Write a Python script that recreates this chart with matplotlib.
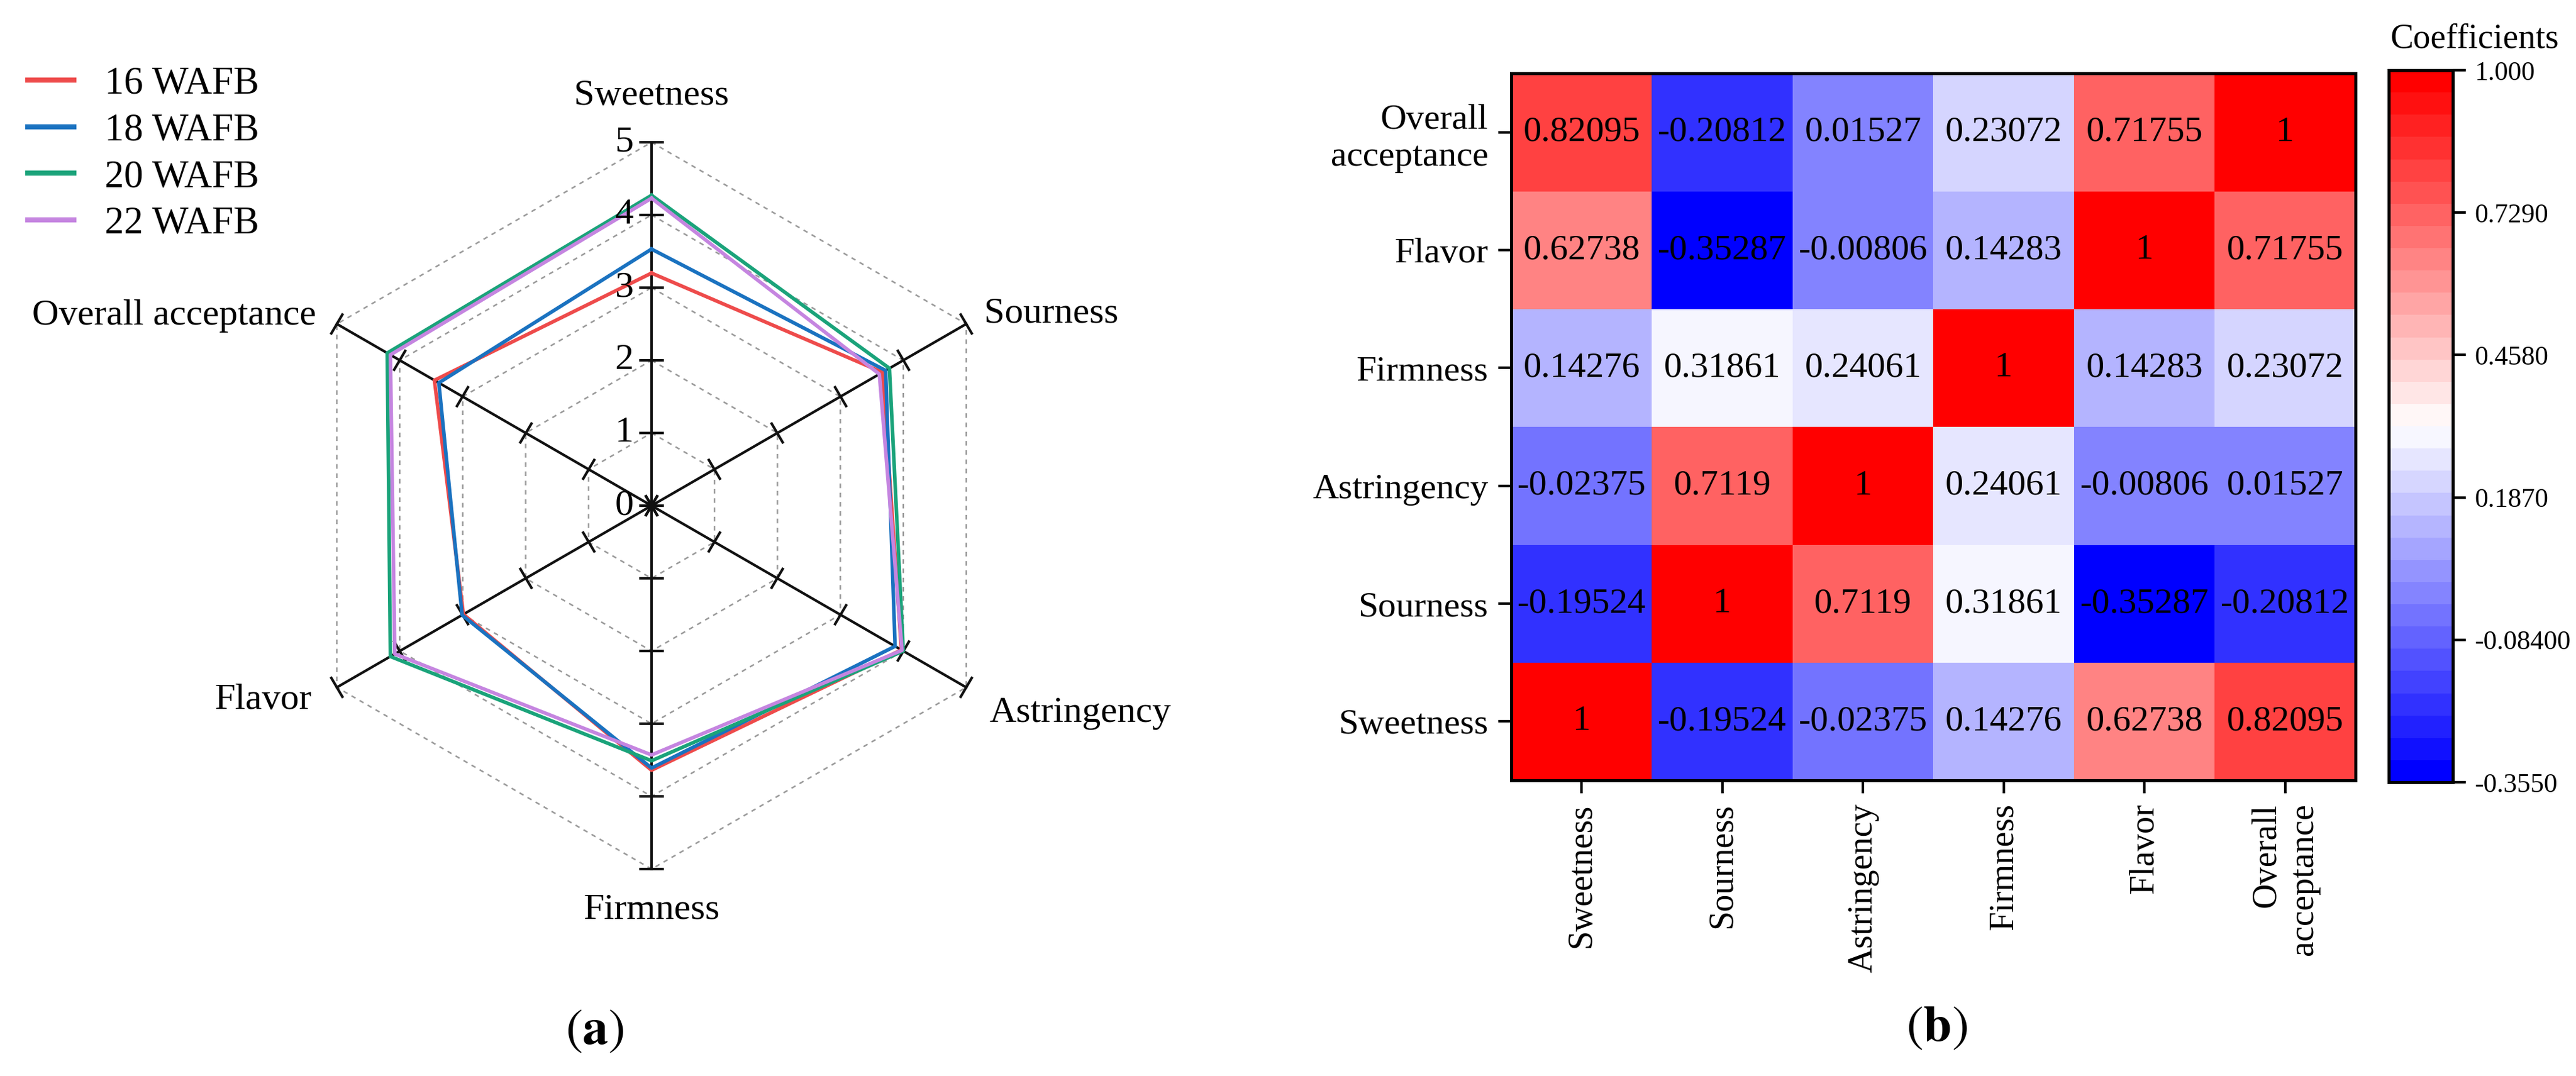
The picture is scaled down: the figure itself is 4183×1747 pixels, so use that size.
import numpy as np
import matplotlib
matplotlib.use('Agg')
import matplotlib.pyplot as plt
from matplotlib.markers import MarkerStyle
from matplotlib.transforms import Affine2D

plt.rcParams['font.family'] = ['Liberation Serif', 'DejaVu Serif']
plt.rcParams['mathtext.fontset'] = 'stix'

# ---- data: sensory scores (radar) ----
attributes = ['Sweetness', 'Sourness', 'Astringency', 'Firmness', 'Flavor', 'Overall acceptance']
stages = ['16 WAFB', '18 WAFB', '20 WAFB', '22 WAFB']
scores_16 = [3.20, 3.67, 3.97, 3.64, 2.99, 3.45]
scores_18 = [3.53, 3.72, 3.87, 3.61, 3.01, 3.38]
scores_20 = [4.27, 3.78, 4.00, 3.51, 4.15, 4.20]
scores_22 = [4.23, 3.62, 3.98, 3.43, 4.08, 4.15]
score_ticks = [0, 1, 2, 3, 4, 5]

# ---- data: correlation matrix (heatmap) ----
heat_labels = ['Sweetness', 'Sourness', 'Astringency', 'Firmness', 'Flavor', 'Overall\nacceptance']
r_sweetness = [1, -0.19524, -0.02375, 0.14276, 0.62738, 0.82095]
r_sourness = [-0.19524, 1, 0.7119, 0.31861, -0.35287, -0.20812]
r_astringency = [-0.02375, 0.7119, 1, 0.24061, -0.00806, 0.01527]
r_firmness = [0.14276, 0.31861, 0.24061, 1, 0.14283, 0.23072]
r_flavor = [0.62738, -0.35287, -0.00806, 0.14283, 1, 0.71755]
r_overall = [0.82095, -0.20812, 0.01527, 0.23072, 0.71755, 1]
cbar_ticks = [-0.355, -0.084, 0.187, 0.458, 0.729, 1.0]
cbar_ticklabels = ['-0.3550', '-0.08400', '0.1870', '0.4580', '0.7290', '1.000']

stage_colors = ['#ee4b4b', '#1a72c0', '#1aa37a', '#c585e0']

W, H = 4183, 1747
DPI = 300
fig = plt.figure(figsize=(W / DPI, H / DPI), dpi=DPI)


def px(x0, y0, w, h):
    # pixel box (top-left origin) -> figure fraction
    return [x0 / W, 1 - (y0 + h) / H, w / W, h / H]


# ================= (a) radar =================
cx, cy, R = 1058, 821, 590
ax = fig.add_axes(px(cx - R, cy - R, 2 * R, 2 * R), projection='polar')
ax.set_theta_zero_location('N')
ax.set_theta_direction(-1)
ax.set_ylim(0, score_ticks[-1])
ax.axis('off')

n = len(attributes)
theta = np.arange(n) * 2 * np.pi / n
theta_c = np.append(theta, theta[0])

# dashed hexagon grid
for lvl in score_ticks[1:]:
    ax.plot(theta_c, [lvl] * (n + 1), ls=(0, (3, 3)), color='#9a9a9a', lw=0.6,
            zorder=1, clip_on=False)

# spokes with perpendicular tick marks
for t in theta:
    ax.plot([t, t], [0, score_ticks[-1]], color='#111111', lw=1.0, zorder=2, clip_on=False)
    m = MarkerStyle('_', transform=Affine2D().rotate_deg(180 - np.degrees(t)))
    ax.plot([t] * len(score_ticks), score_ticks, ls='none', marker=m, ms=9.5, mew=1.0,
            color='#111111', zorder=2, clip_on=False)

for scores, name, col in zip([scores_16, scores_18, scores_20, scores_22], stages, stage_colors):
    vals = scores + scores[:1]
    ax.plot(theta_c, vals, color=col, lw=1.4, label=name, zorder=3, clip_on=False)

for v in score_ticks:
    ax.annotate(str(v), (0, v), xytext=(-7, 0), textcoords='offset points',
                ha='right', va='center', fontsize=14.5)

lab_off = [(0, 18), (7, 4), (9, -10), (0, -16), (-10, -5), (-8, 3)]
lab_ha = ['center', 'left', 'left', 'center', 'right', 'right']
for t, name, off, ha in zip(theta, attributes, lab_off, lab_ha):
    ax.annotate(name, (t, score_ticks[-1]), xytext=off, textcoords='offset points',
                ha=ha, va='center', fontsize=14.5, annotation_clip=False)

leg = ax.legend(loc='upper left', bbox_to_anchor=(45 / W, 1 - 108 / H),
                bbox_transform=fig.transFigure, frameon=False, fontsize=15,
                handlelength=1.2, handletextpad=0.8, labelspacing=0.28,
                borderpad=0, borderaxespad=0)
for h in leg.get_lines():
    h.set_linewidth(2.0)

# ================= (b) heatmap =================
corr = np.array([r_sweetness, r_sourness, r_astringency, r_firmness, r_flavor, r_overall])
hax = fig.add_axes(px(2454, 119, 1371, 1148))
cmap = plt.get_cmap('bwr', 32)
im = hax.imshow(corr, cmap=cmap, vmin=cbar_ticks[0], vmax=cbar_ticks[-1],
                origin='lower', aspect='auto')
for i in range(corr.shape[0]):
    for j in range(corr.shape[1]):
        hax.text(j, i, f'{corr[i, j]:g}', ha='center', va='center', fontsize=14)

hax.set_xticks(range(len(heat_labels)), heat_labels, rotation=90, ha='center', va='top',
               multialignment='right', fontsize=13.5)
hax.set_yticks(range(len(heat_labels)), heat_labels, multialignment='right', fontsize=14)
hax.tick_params(length=5, width=1, pad=4)
for s in hax.spines.values():
    s.set_linewidth(1.2)

cax = fig.add_axes(px(3879, 114, 104, 1156))
cb = fig.colorbar(im, cax=cax, ticks=cbar_ticks)
cb.ax.set_yticklabels(cbar_ticklabels, fontsize=10.5)
cb.outline.set_linewidth(1.2)
cax.tick_params(length=5, width=1)
fig.text(3882 / W, 1 - 63 / H, 'Coefficients', ha='left', va='center', fontsize=13.5)

fig.text(966 / W, 1 - 1676 / H, r'$(\mathbf{a})$', ha='center', va='center', fontsize=20)
fig.text(3145 / W, 1 - 1671 / H, r'$(\mathbf{b})$', ha='center', va='center', fontsize=20)

fig.savefig('out.png', dpi=DPI)
